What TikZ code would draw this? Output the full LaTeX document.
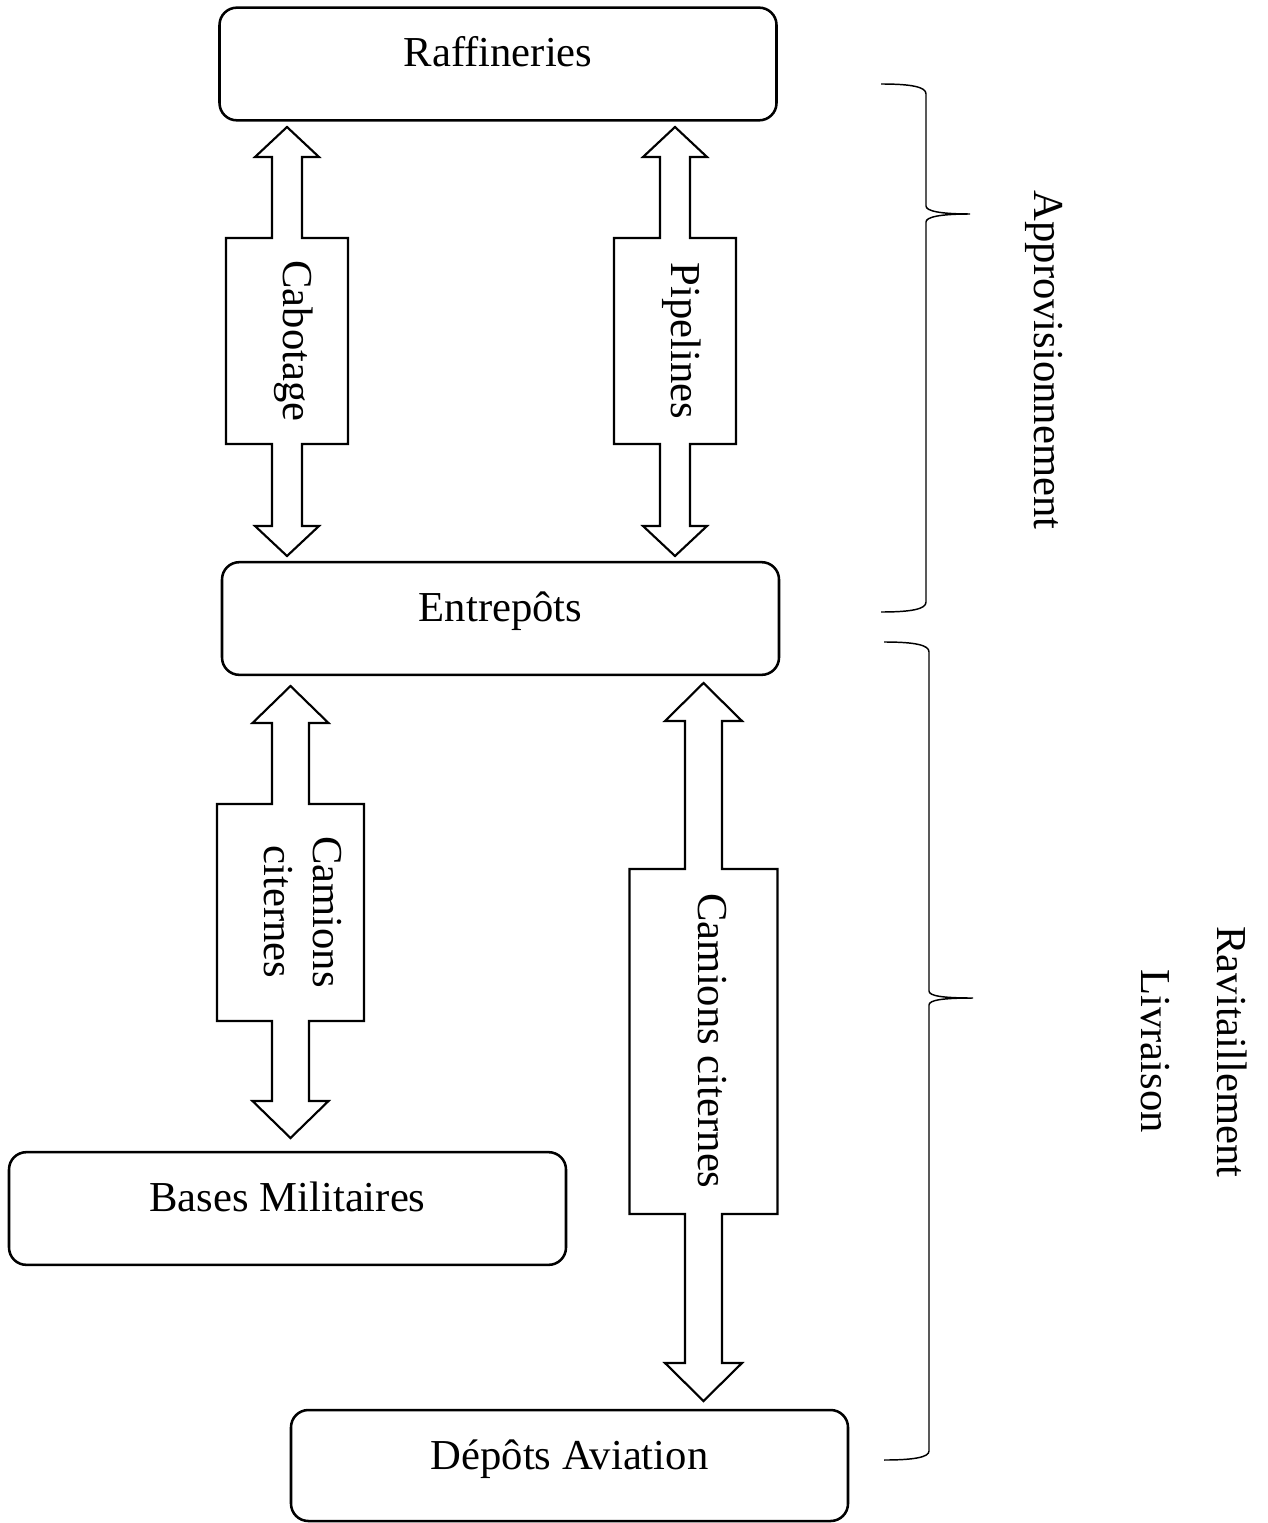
\documentclass[tikz,border=0pt]{standalone}
\usepackage{fontspec}
\setmainfont{Liberation Serif}
\begin{document}
\begin{tikzpicture}[x=0.75pt, y=-0.75pt,
  box/.style={draw, line width=1.9pt, rounded corners=13pt,
    minimum width=417.75pt, minimum height=84.5pt, inner sep=0pt},
  lbl/.style={font=\fontsize{32}{36.8}\selectfont, inner sep=0pt, anchor=base},
  vlbl/.style={lbl, rotate=-90},
  barrow/.style={draw, line width=1.6pt, line join=miter, fill=white},
  brace/.style={draw, line width=1.1pt}]
\useasboundingbox (0,0) rectangle (1267,1523);

% double-headed block arrow:
% #1 centre x, #2 half shaft, #3 half head, #4 half box, #5 head length,
% #6 top tip y, #7 box top y, #8 box bottom y, #9 bottom tip y
\newcommand\blockarrow[9]{%
  \draw[barrow] (#1,#6) -- ({#1+#3},{#6+#5}) -- ({#1+#2},{#6+#5})
    -- ({#1+#2},#7) -- ({#1+#4},#7) -- ({#1+#4},#8) -- ({#1+#2},#8)
    -- ({#1+#2},{#9-#5}) -- ({#1+#3},{#9-#5}) -- (#1,#9)
    -- ({#1-#3},{#9-#5}) -- ({#1-#2},{#9-#5}) -- ({#1-#2},#8)
    -- ({#1-#4},#8) -- ({#1-#4},#7) -- ({#1-#2},#7)
    -- ({#1-#2},{#6+#5}) -- ({#1-#3},{#6+#5}) -- cycle;}

% boxes
\node[box] (raf) at (498,64) {};
\node[box] (ent) at (500.5,618.5) {};
\node[box] (bas) at (287.5,1208.5) {};
\node[box, minimum height=83.25pt] (dep) at (569.5,1465.5) {};

\node[lbl] (rafT) at (498,67) {Raffineries};
\node[lbl] (entT) at (500.5,621) {Entrepôts};
\node[lbl] (basT) at (287.5,1211) {Bases Militaires};
\node[lbl] (depT) at (569.5,1469) {Dépôts Aviation};

% transport links
\blockarrow{287}{15}{32}{61}{30}{127}{238}{444}{556}
\blockarrow{675}{15}{32}{61}{30}{127}{238}{444}{556}
\blockarrow{290.5}{18.5}{38}{73.5}{37}{686}{804}{1021}{1138}
\blockarrow{703.5}{18.5}{38.5}{74}{38}{683}{869}{1214}{1401}

\node[vlbl] (cab) at (283,341) {Cabotage};
\node[vlbl] (pip) at (671,341) {Pipelines};
\node[vlbl] (cam1) at (313,912) {Camions};
\node[vlbl] (cit1) at (264,912) {citernes};
\node[vlbl] (cam2) at (698,1041) {Camions citernes};

% braces
\draw[brace] (881,84) .. controls (912,84) and (926,87) .. (926,94)
  -- (926,206) .. controls (926,211) and (940,214) .. (970,214)
  .. controls (940,214) and (926,217) .. (926,222)
  -- (926,602) .. controls (926,609) and (912,612) .. (881,612);
\draw[brace] (884,642) .. controls (915,642) and (929,645) .. (929,652)
  -- (929,991) .. controls (929,996) and (943,998) .. (973,998)
  .. controls (943,998) and (929,1000) .. (929,1005)
  -- (929,1451) .. controls (929,1457) and (915,1460) .. (884,1460);

\node[vlbl] (appro) at (1034,360) {Approvisionnement};
\node[vlbl] (ravi) at (1217,1052) {Ravitaillement};
\node[vlbl] (livr) at (1141,1051) {Livraison};
\end{tikzpicture}
\end{document}
